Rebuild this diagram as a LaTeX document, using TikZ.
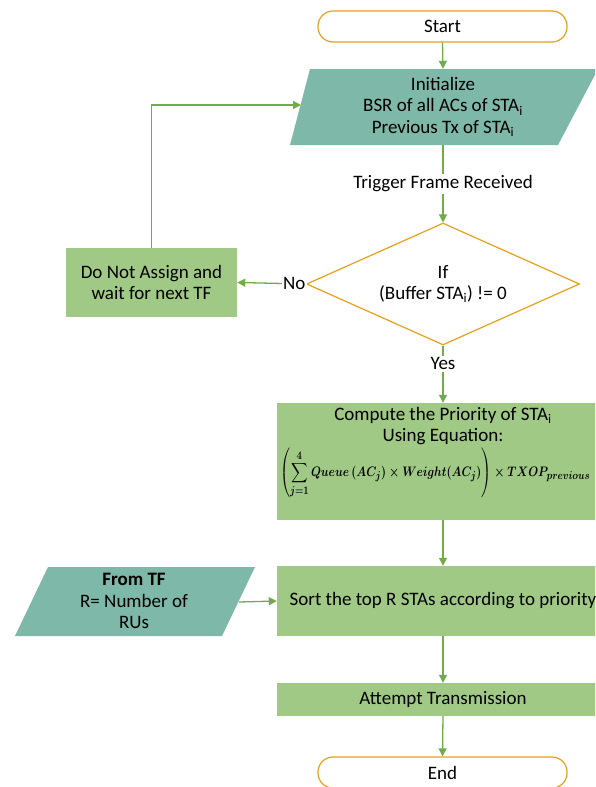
\documentclass[tikz,border=0pt]{standalone}
\usepackage{amsmath}
\usepackage{graphicx}
\usepackage{fontspec}
\setmainfont{Carlito}
\usetikzlibrary{arrows.meta,shapes.geometric}
\definecolor{arrowgreen}{HTML}{70AD47}
\definecolor{boxgreen}{HTML}{A0C985}
\definecolor{tealfill}{HTML}{7EB8A8}
\definecolor{termborder}{HTML}{E6A118}
\tikzset{
  arr/.style={draw=arrowgreen, line width=1.3pt, -{Triangle[length=8pt,width=8pt]}},
  terminal/.style={draw=termborder, line width=1.2pt, fill=white, rounded corners=15pt,
     minimum width=249pt, minimum height=31pt, inner sep=0pt},
  procbox/.style={fill=boxgreen, draw=none, minimum width=332pt, inner sep=0pt, align=center},
  decision/.style={diamond, draw=termborder, line width=1.2pt, fill=white, inner sep=0pt,
     minimum width=273pt, minimum height=122pt, aspect=2.24, align=center},
  lbl/.style={fill=white, inner sep=1.5pt},
  txt/.style={align=center, inner sep=0pt}
}
\begin{document}
\begin{tikzpicture}[x=1pt,y=-1pt,font=\fontsize{19}{21.5}\selectfont]
\useasboundingbox (0,0) rectangle (595,787);
\clip (0,0) rectangle (595,787);
\fill[white] (0,0) rectangle (595,787);

% Start
\node[terminal] (start) at (442.5,26.5) {Start};

% Initialize (parallelogram)
\fill[tealfill] (310,69) -- (598,69) -- (558,145) -- (290,145) -- cycle;
\node[txt, minimum width=250pt, minimum height=76pt] (init) at (443,107)
  {Initialize\\BSR of all ACs of STA\textsubscript{i}\\Previous Tx of STA\textsubscript{i}};
\coordinate (initL) at (301,105);

% Decision
\node[decision] (dia) at (443,284) {If\\(Buffer STA\textsubscript{i}) != 0};

% Do not assign
\node[procbox, minimum width=171pt, minimum height=69pt] (dna) at (151.5,282.5)
  {Do Not Assign and\\wait for next TF};

% Compute box
\node[procbox, minimum height=117pt] (comp) at (443,461.5) {};
\node[txt] (compt) at (443,426) {Compute the Priority of STA\textsubscript{i}\\Using Equation:};
\node[txt] (eq) at (435,473) {\scalebox{1}[1.2]{\resizebox{310pt}{!}{\boldmath$\displaystyle\left(\sum_{j=1}^{4} Queue\,(AC_j)\times Weight(AC_j)\right)\times TXOP_{previous}$}}};

% Sort box
\node[procbox, minimum height=70pt] (sort) at (443,601) {Sort the top R STAs according to priority};

% From TF
\fill[tealfill] (48,567) -- (255,567) -- (222,636) -- (15,636) -- cycle;
\node[txt] (fromtf) at (134,601) {\textbf{From TF}\\R= Number of\\RUs};
\coordinate (fromR) at (239,602);

% Attempt
\node[procbox, minimum height=33pt] (att) at (443,699.5) {Attempt Transmission};

% End
\node[terminal] (end) at (442.5,772.5) {End};

% Connectors
\draw[arr] (start.south) -- (init.north);
\draw[arr] (init.south) -- node[lbl, pos=0.5] {Trigger Frame Received} (dia.north);
\draw[arr] (dia.west) -- node[lbl, pos=0.17] {No} (dna.east);
\draw[arr] (dna.north) |- (initL);
\draw[arr] (dia.south) -- node[lbl, pos=0.32] {Yes} (comp.north);
\draw[arr] (comp.south) -- (sort.north);
\draw[arr] (fromR) -- (sort.west);
\draw[arr] (sort.south) -- (att.north);
\draw[arr] (att.south) -- (end.north);
\end{tikzpicture}
\end{document}
